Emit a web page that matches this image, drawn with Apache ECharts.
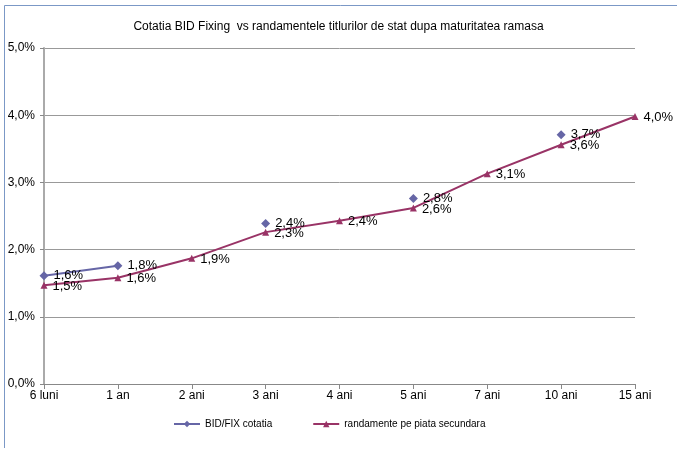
<!DOCTYPE html>
<html>
<head>
<meta charset="utf-8">
<script src="https://cdn.jsdelivr.net/npm/echarts@6/dist/echarts.min.js"></script>
<style>
html,body{margin:0;padding:0;background:#fff;}
#c{width:677px;height:454px;}
</style>
</head>
<body>
<div id="c"></div>
<script>
var categories = ['6 luni','1 an','2 ani','3 ani','4 ani','5 ani','7 ani','10 ani','15 ani'];
var bidFix = [1.61, 1.76, null, 2.39, null, 2.76, null, 3.71, null];
var randamente = [1.47, 1.58, 1.87, 2.26, 2.43, 2.62, 3.13, 3.56, 3.98];
var yTicks = [0,1,2,3,4,5];

var font = 'Liberation Sans, Arial, sans-serif';
function pct(v){ return v.toFixed(1).replace('.', ',') + '%'; }

var chart = echarts.init(document.getElementById('c'));
chart.setOption({
  animation: false,
  backgroundColor: '#fff',
  title: {
    text: 'Cotatia BID Fixing  vs randamentele titlurilor de stat dupa maturitatea ramasa',
    left: 'center', top: 16,
    textStyle: {fontFamily: font, fontSize: 12, fontWeight: 'normal', color: '#000'}
  },
  legend: {
    top: 414, left: 168, itemGap: 40, itemWidth: 26, itemHeight: 8,
    textStyle: {fontFamily: font, fontSize: 10, color: '#000'},
    data: ['BID/FIX cotatia', 'randamente pe piata secundara']
  },
  grid: {left: 44, right: 42, top: 48, bottom: 70},
  xAxis: {
    type: 'category', data: categories, boundaryGap: false,
    axisLine: {lineStyle: {color: '#888', width: 1}},
    axisTick: {show: true, alignWithLabel: true, length: 5, lineStyle: {color: '#888'}},
    axisLabel: {fontFamily: font, fontSize: 12, color: '#000', margin: 6}
  },
  yAxis: {
    type: 'value', min: 0, max: 5, interval: 1,
    axisLine: {show: true, lineStyle: {color: '#aaa', width: 2}},
    axisTick: {show: true, length: 4, lineStyle: {color: '#888'}},
    splitLine: {lineStyle: {color: '#999', width: 1}},
    axisLabel: {fontFamily: font, fontSize: 12, color: '#000', margin: 9,
      formatter: function(v){ return pct(v); }}
  },
  series: [
    {
      name: 'BID/FIX cotatia', type: 'line', data: bidFix, connectNulls: false,
      symbol: 'diamond', symbolSize: 9, showAllSymbol: true,
      itemStyle: {color: '#6666a6'},
      lineStyle: {color: '#6666a6', width: 2},
      label: {show: true, position: 'right', distance: 5, offset: [0, 0],
        fontFamily: font, fontSize: 13, color: '#000',
        formatter: function(p){ return pct(p.value); }},
      z: 3
    },
    {
      name: 'randamente pe piata secundara', type: 'line', data: randamente,
      symbol: 'triangle', symbolSize: 7, showAllSymbol: true,
      itemStyle: {color: '#993366'},
      lineStyle: {color: '#993366', width: 2},
      label: {show: true, position: 'right', distance: 5, offset: [0, 1],
        fontFamily: font, fontSize: 13, color: '#000',
        formatter: function(p){ return pct(p.value); }},
      z: 2
    }
  ],
  graphic: [
    {type: 'line', shape: {x1: 4.5, y1: 5.5, x2: 677, y2: 5.5}, style: {stroke: '#7b98c6', lineWidth: 1}},
    {type: 'line', shape: {x1: 4.5, y1: 5.5, x2: 4.5, y2: 448}, style: {stroke: '#7b98c6', lineWidth: 1}}
  ]
});
</script>
</body>
</html>
